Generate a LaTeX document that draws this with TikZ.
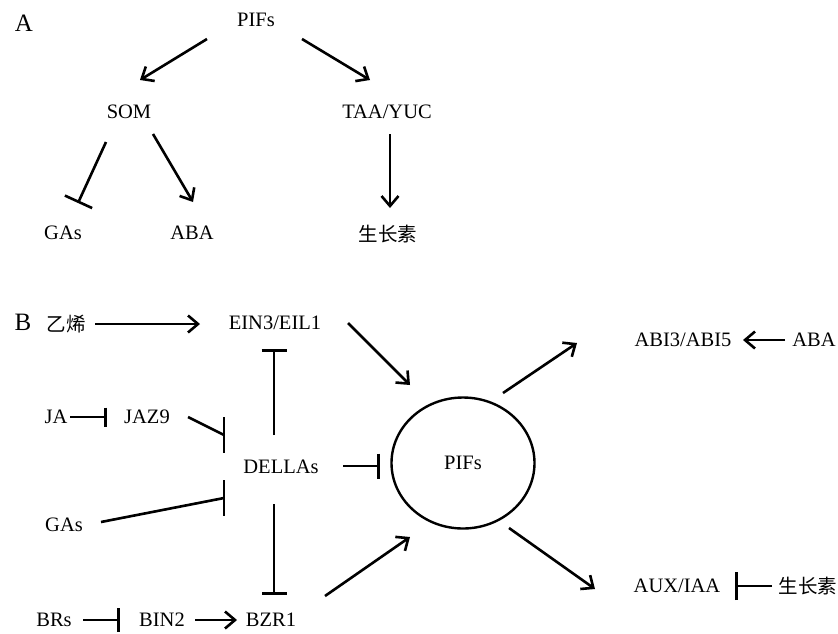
\documentclass[tikz,border=0pt]{standalone}
\usepackage{fontspec}
\setmainfont{Liberation Serif}
\newfontfamily\cjk{Noto Sans CJK SC}
\usetikzlibrary{arrows.meta,shapes.geometric}
\begin{document}
\begin{tikzpicture}[x=1pt,y=-1pt,
  lbl/.style={font=\fontsize{20.5}{24}\selectfont, inner sep=0pt},
  panel/.style={font=\fontsize{25}{30}\selectfont, inner sep=0pt},
  cjklbl/.style={font=\cjk\fontsize{19.5}{24}\selectfont, inner sep=0pt},
  act/.style={line width=2.6pt, -{Straight Barb[length=10pt,width=17pt,line width=2.6pt]}},
  inh/.style={line width=2.6pt, -{Bar[width=#1,line width=2.6pt]}},
  inh/.default=25pt,
  plain/.style={line width=2.6pt},
  bigcirc/.style={draw, line width=2.4pt, ellipse, minimum width=143pt, minimum height=131pt, inner sep=0pt}]
\useasboundingbox (0,0) rectangle (838,633);
% ---------- Panel A ----------
\node[panel] (A) at (24,23) {A};
\node[lbl] (pifsA) at (256,20) {PIFs};
\node[lbl] (som) at (129,112) {SOM};
\node[lbl] (taa) at (387,112) {TAA/YUC};
\node[lbl] (gasA) at (63,233) {GAs};
\node[lbl] (abaA) at (192,233) {ABA};
\node[cjklbl] (auxA) at (388,234) {生长素};
\coordinate (a1s) at (207,39);  \coordinate (a1e) at (140,80);
\coordinate (a2s) at (302,39);  \coordinate (a2e) at (370,80);
\coordinate (a3s) at (106,142); \coordinate (a3e) at (78,203);
\coordinate (a4s) at (153,134); \coordinate (a4e) at (193,202);
\coordinate (a5s) at (390,134); \coordinate (a5e) at (390,208);
\draw[act] (a1s) -- (a1e);
\draw[act] (a2s) -- (a2e);
\draw[inh=30pt] (a3s) -- (a3e);
\draw[act] (a4s) -- (a4e);
\draw[act] (a5s) -- (a5e);
% ---------- Panel B ----------
\node[panel] (B) at (23,322) {B};
\node[cjklbl] (eth) at (66,324) {乙烯};
\node[lbl] (ein) at (275,323) {EIN3/EIL1};
\node[lbl] (ja) at (56,417) {JA};
\node[lbl] (jaz) at (147,417) {JAZ9};
\node[lbl] (della) at (281,467) {DELLAs};
\node[lbl] (gasB) at (64,525) {GAs};
\node[lbl] (brs) at (54,620) {BRs};
\node[lbl] (bin) at (162,620) {BIN2};
\node[lbl] (bzr) at (271,620) {BZR1};
\node[bigcirc] (pifs) at (463,463) {};
\node[lbl] at (pifs.center) {PIFs};
\node[lbl] (abi) at (683,340) {ABI3/ABI5};
\node[lbl] (abaB) at (814,340) {ABA};
\node[lbl] (aux) at (677,586) {AUX/IAA};
\node[cjklbl] (auxB) at (808,586) {生长素};
% coordinates for connector ends
\coordinate (b1s) at (95,324);  \coordinate (b1e) at (200,324);
\coordinate (b2s) at (274,435); \coordinate (b2e) at (274,349);
\coordinate (b3s) at (70,417);  \coordinate (b3e) at (107,417);
\coordinate (b4s) at (188,417); \coordinate (b4e) at (224,435);
\coordinate (b4t) at (224,417); \coordinate (b4b) at (224,453);
\coordinate (b5s) at (101,522); \coordinate (b5e) at (224,498);
\coordinate (b5t) at (224,480); \coordinate (b5b) at (224,516);
\coordinate (b6s) at (274,504); \coordinate (b6e) at (274,595);
\coordinate (b7s) at (343,466); \coordinate (b7e) at (380,466);
\coordinate (b8s) at (83,620);  \coordinate (b8e) at (120,620);
\coordinate (b9s) at (195,620); \coordinate (b9e) at (237,620);
\coordinate (c1s) at (325,596); \coordinate (c1e) at (410,537);
\coordinate (c2s) at (348,323); \coordinate (c2e) at (410,385);
\coordinate (c3s) at (503,393); \coordinate (c3e) at (577,343);
\coordinate (c4s) at (509,528); \coordinate (c4e) at (595,589);
\coordinate (c5s) at (785,340); \coordinate (c5e) at (743,340);
\coordinate (c6s) at (772,586); \coordinate (c6e) at (735,586);
\draw[act] (b1s) -- (b1e);
\draw[inh] (b2s) -- (b2e);
\draw[inh=19pt] (b3s) -- (b3e);
\draw[plain] (b4s) -- (b4e);
\draw[plain] (b4t) -- (b4b);
\draw[plain] (b5s) -- (b5e);
\draw[plain] (b5t) -- (b5b);
\draw[inh] (b6s) -- (b6e);
\draw[inh] (b7s) -- (b7e);
\draw[inh=24pt] (b8s) -- (b8e);
\draw[act] (b9s) -- (b9e);
\draw[act] (c1s) -- (c1e);
\draw[act] (c2s) -- (c2e);
\draw[act] (c3s) -- (c3e);
\draw[act] (c4s) -- (c4e);
\draw[act] (c5s) -- (c5e);
\draw[inh=28pt] (c6s) -- (c6e);
\end{tikzpicture}
\end{document}
